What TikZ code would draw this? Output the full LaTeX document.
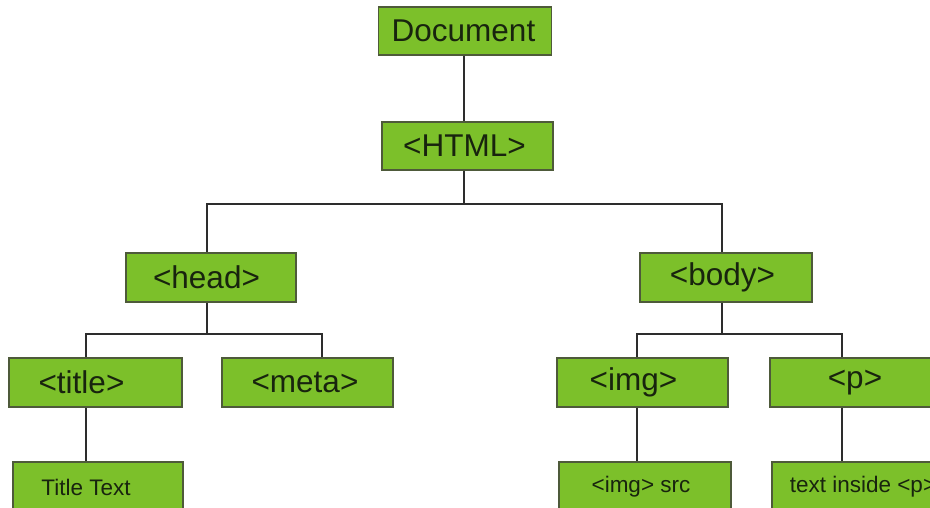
\documentclass[tikz,border=0pt]{standalone}
\usepackage{fontspec}
\setmainfont{Liberation Sans}
\definecolor{boxfill}{RGB}{124,192,42}
\definecolor{boxline}{RGB}{78,90,58}
\definecolor{boxtext}{RGB}{24,36,14}
\definecolor{wire}{RGB}{45,45,45}
\newcommand{\padr}[1]{\hspace*{#1pt}}
\tikzset{
  tag/.style={draw=boxline, line width=1.5pt, fill=boxfill, text=boxtext, inner sep=0pt,
    font=\fontsize{31.5}{36}\selectfont, minimum height=48pt},
  leaf/.style={tag, font=\fontsize{22.5}{26}\selectfont, minimum height=50pt},
  wirestyle/.style={draw=wire, line width=2pt}
}
\begin{document}
\begin{tikzpicture}[x=1pt,y=-1pt]
\useasboundingbox (0,0) rectangle (930,507);
\clip (0,0) rectangle (930,507);
\node[tag, minimum width=173pt] (doc) at (465,31) {Document\padr{3}};
\node[tag, minimum width=171pt] (html) at (467.5,146) {<HTML>\padr{6}};
\node[tag, minimum width=170pt, minimum height=49pt] (head) at (211,277.5) {<head>\padr{9}};
\node[tag, minimum width=172pt, minimum height=49pt] (body) at (726,277.5) {<body>\padr{7}};
\node[tag, minimum width=173pt, minimum height=49pt] (title) at (95.5,382.5) {<title>\padr{28}};
\node[tag, minimum width=171pt, minimum height=49pt] (meta) at (307.5,382.5) {<meta>\padr{5}};
\node[tag, minimum width=171pt, minimum height=49pt] (img) at (642.5,382.5) {<img>\padr{18}};
\node[tag, minimum width=170pt, minimum height=49pt] (p) at (855,382.5) {<p>};
\node[leaf, minimum width=170pt] (tt) at (98,487) {Title Text\padr{24}};
\node[leaf, minimum width=172pt] (isrc) at (645,487) {<img> src\padr{8}};
\node[leaf, minimum width=176pt] (ptext) at (860,487) {\padr{6}text inside <p>};
\draw[wirestyle] (doc.south -| html.north) ++(-4,0) -- ([xshift=-4pt]html.north);
\draw[wirestyle] ([xshift=-4pt]html.south) -- ++(0,33) coordinate (hj) -| ([xshift=-4pt]head.north);
\draw[wirestyle] (hj) -| ([xshift=-4pt]body.north);
\draw[wirestyle] ([xshift=-4pt]head.south) -- ++(0,31) coordinate (hh) -| ([xshift=-9.5pt]title.north);
\draw[wirestyle] (hh) -| ([xshift=14.5pt]meta.north);
\draw[wirestyle] ([xshift=-4pt]body.south) -- ++(0,31) coordinate (bb) -| ([xshift=-5.5pt]img.north);
\draw[wirestyle] (bb) -| ([xshift=-13pt]p.north);
\draw[wirestyle] ([xshift=-9.5pt]title.south) -- ([xshift=-9.5pt]title.south |- tt.north);
\draw[wirestyle] ([xshift=-5.5pt]img.south) -- ([xshift=-5.5pt]img.south |- isrc.north);
\draw[wirestyle] ([xshift=-13pt]p.south) -- ([xshift=-13pt]p.south |- ptext.north);
\end{tikzpicture}
\end{document}
